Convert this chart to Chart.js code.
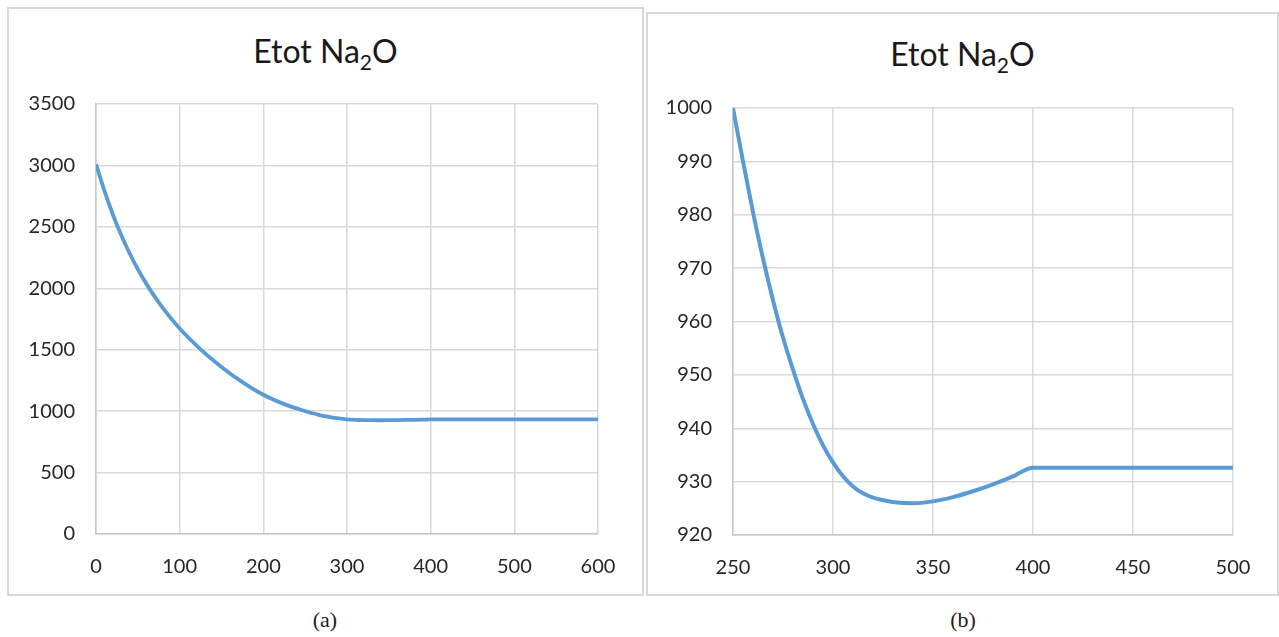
<!DOCTYPE html>
<html>
<head>
<meta charset="utf-8">
<title>Etot Na2O</title>
<script src="https://cdn.jsdelivr.net/npm/chart.js@4.4.0/dist/chart.umd.min.js"></script>
<style>
	body {
		margin: 0;
		width: 1279px;
		height: 637px;
		overflow: hidden;
		position: relative;
		background: #fff;
		font-family: Lato, "Open Sans", sans-serif;
	}
	.panel {
		position: absolute;
		box-sizing: border-box;
		border: 2px solid #d9d9d9;
		background: #fff;
	}
	#panelA { left: 7px; top: 7px; width: 637px; height: 589px; }
	#panelB { left: 646px; top: 12px; width: 633px; height: 584px; }
	.title {
		position: absolute;
		left: 0;
		right: 0;
		text-align: center;
		font-size: 32px;
		line-height: 32px;
		color: #1a1a1a;
	}
	.title sub {
		font-size: 21px;
		line-height: 0;
		vertical-align: -7px;
	}
	.panel canvas { position: absolute; left: 0; }
	#chartA { top: 62px; }
	#chartB { top: 61px; }
	.caption {
		position: absolute;
		width: 60px;
		text-align: center;
		font-family: "Liberation Serif", "DejaVu Serif", serif;
		font-size: 22px;
		color: #222;
		top: 607px;
	}
</style>
</head>
<body>
	<div class="panel" id="panelA">
		<div class="title" style="top: 26px;">Etot Na<sub>2</sub>O</div>
		<canvas id="chartA" width="632" height="519"></canvas>
	</div>
	<div class="panel" id="panelB">
		<div class="title" style="top: 24px;">Etot Na<sub>2</sub>O</div>
		<canvas id="chartB" width="628" height="518"></canvas>
	</div>
	<div class="caption" style="left: 295px;">(a)</div>
	<div class="caption" style="left: 933px;">(b)</div>

<script>
	// simulation step and total energy of the run
	const steps = [0, 10, 20, 30, 40, 50, 64, 80, 100, 125, 150, 175, 200, 225,
		250, 255, 260, 265, 270, 275, 280, 285, 290, 295, 300, 305, 310, 315,
		320, 330, 340, 350, 360, 370, 380, 390, 400, 410, 450, 500, 600];
	const etot = [3010, 2795, 2603, 2435, 2287, 2155, 1995, 1838, 1672, 1503,
		1360, 1236, 1133, 1057, 1000, 990, 980.5, 971.8, 964, 957, 951, 945.5,
		940.8, 936.8, 933.6, 931, 929.1, 927.8, 927, 926.2, 925.95, 926.3, 927.1,
		928.2, 929.5, 931, 932.6, 932.6, 932.6, 932.6, 932.6];

	// axis ranges [min, max, step] for the full run (a) and the zoomed window (b)
	const xRangeA = [0, 600, 100];
	const yRangeA = [0, 3500, 500];
	const xRangeB = [250, 500, 50];
	const yRangeB = [920, 1000, 10];

	const lineColor = "#5B9BD5";
	const gridColor = "#d9d9d9";
	const tickColor = "#262626";

	function seriesPoints(xMin, xMax) {
		var pts = [];
		for (let i = 0; i < steps.length; i++) {
			if (steps[i] >= xMin && steps[i] <= xMax) {
				pts.push({ x: steps[i], y: etot[i] });
			}
		}
		return pts;
	}

	function axis(range, extra) {
		return Object.assign({
			type: "linear",
			min: range[0],
			max: range[1],
			ticks: {
				stepSize: range[2],
				color: tickColor,
				font: { family: "Lato", size: 20 },
				padding: 21,
				format: { useGrouping: false },
			},
			grid: { color: gridColor, lineWidth: 1.5, drawTicks: false },
			border: { color: "#c8c8c8", width: 1.5 },
		}, extra);
	}

	function buildChart(id, xr, yr, dims) {
		var ctx = document.getElementById(id).getContext("2d");
		return new Chart(ctx, {
			type: "line",
			data: {
				datasets: [{
					data: seriesPoints(xr[0], xr[1]),
					borderColor: lineColor,
					borderWidth: dims.lineWidth,
					pointRadius: 0,
					cubicInterpolationMode: "monotone",
					fill: false,
				}],
			},
			options: {
				responsive: false,
				animation: false,
				devicePixelRatio: 1,
				// top padding covers half the top tick label plus its padding
				layout: { padding: { top: 33, right: 43, left: 0, bottom: 0 } },
				plugins: { legend: { display: false }, tooltip: { enabled: false } },
				scales: {
					x: axis(xr, {
						afterFit: function (scale) { scale.height = dims.xAxisHeight; },
					}),
					y: axis(yr, {
						afterFit: function (scale) { scale.width = dims.yAxisWidth; },
					}),
				},
			},
		});
	}

	buildChart("chartA", xRangeA, yRangeA,
		{ xAxisHeight: 56, yAxisWidth: 87, lineWidth: 3.8 });
	buildChart("chartB", xRangeB, yRangeB,
		{ xAxisHeight: 58, yAxisWidth: 85, lineWidth: 4 });
</script>
</body>
</html>
